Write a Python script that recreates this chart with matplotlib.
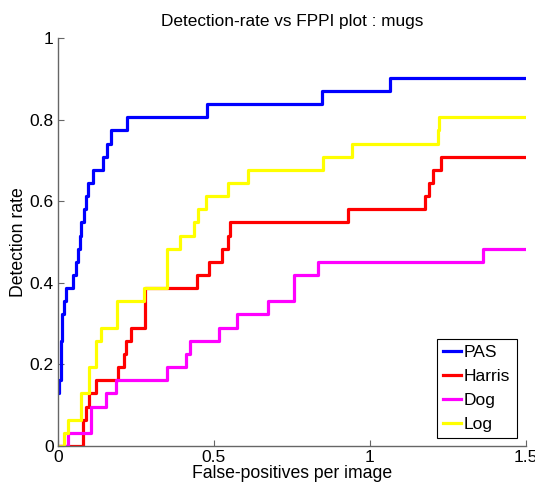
import matplotlib
matplotlib.use('Agg')
from matplotlib import pyplot as plt
import numpy as np

plt.rcParams['font.family'] = ['Liberation Sans', 'DejaVu Sans']

# number of annotated mugs (detection rate = found / total)
n_total = 31
x_max = 1.5

# false-positives per image where each curve steps up, and the count of detections reached
pas_fppi = [0, 0.005, 0.009, 0.014, 0.020, 0.026, 0.050, 0.059, 0.066, 0.072, 0.075, 0.078,
            0.083, 0.089, 0.097, 0.112, 0.145, 0.159, 0.170, 0.221, 0.479, 0.846, 1.065]
pas_found = [4, 5, 8, 10, 11, 12, 13, 14, 15, 16, 17, 17, 18, 19, 20, 21, 22, 23, 24, 25, 26, 27, 28]

harris_fppi = [0, 0.082, 0.090, 0.101, 0.123, 0.192, 0.212, 0.219, 0.234, 0.278, 0.445, 0.486,
               0.526, 0.547, 0.552, 0.931, 1.177, 1.191, 1.202, 1.228]
harris_found = [0, 2, 3, 4, 5, 6, 7, 8, 9, 12, 13, 14, 15, 16, 17, 18, 19, 20, 21, 22]

dog_fppi = [0, 0.034, 0.106, 0.155, 0.187, 0.349, 0.411, 0.424, 0.515, 0.574, 0.675, 0.757, 0.835, 1.364]
dog_found = [0, 1, 3, 4, 5, 6, 7, 8, 9, 10, 11, 13, 14, 15]

log_fppi = [0, 0.020, 0.034, 0.074, 0.101, 0.123, 0.138, 0.191, 0.277, 0.349, 0.392, 0.437,
            0.448, 0.475, 0.547, 0.608, 0.849, 0.942, 1.217, 1.223]
log_found = [0, 1, 2, 4, 6, 8, 9, 11, 12, 15, 16, 17, 18, 19, 20, 21, 22, 23, 24, 25]

curves = [('PAS', pas_fppi, pas_found, '#0000ff'),
          ('Harris', harris_fppi, harris_found, '#ff0000'),
          ('Dog', dog_fppi, dog_found, '#ff00ff'),
          ('Log', log_fppi, log_found, '#ffff00')]

fig = plt.figure(figsize=(5.35, 4.91), dpi=100)
ax = fig.add_axes([0.108, 0.0916, 0.875, 0.8304])

for name, xs, found, col in curves:
    xs = list(xs) + [x_max]
    ys = [f / n_total for f in found] + [found[-1] / n_total]
    ax.step(xs, ys, where='post', color=col, lw=2.3, label=name)

ax.set_xlim(0, x_max)
ax.set_ylim(0, 1)
ax.set_xticks([0, 0.5, 1, 1.5])
ax.set_xticklabels(['0', '0.5', '1', '1.5'])
ax.set_yticks([0, 0.2, 0.4, 0.6, 0.8, 1])
ax.set_yticklabels(['0', '0.2', '0.4', '0.6', '0.8', '1'])

grey = '#666666'
for side in ['top', 'right']:
    ax.spines[side].set_visible(False)
for side in ['left', 'bottom']:
    ax.spines[side].set_color(grey)
    ax.spines[side].set_linewidth(1.0)
ax.tick_params(direction='in', length=4, width=0.8, color=grey, labelsize=12.5, pad=3)

ax.set_xlabel('False-positives per image', fontsize=12.7, labelpad=0)
ax.set_ylabel('Detection rate', fontsize=12.7, labelpad=2)
ax.set_title('Detection-rate vs FPPI plot : mugs', fontsize=12.4, pad=9)

leg = ax.legend(loc='lower right', bbox_to_anchor=(0.98, 0.02), fontsize=12.5, fancybox=False,
                handlelength=1.0, handletextpad=0.2, borderpad=0.35, labelspacing=0.5,
                borderaxespad=0.0, framealpha=1)
leg.get_frame().set_edgecolor('black')
leg.get_frame().set_linewidth(0.8)

plt.savefig('out.png', dpi=100)
